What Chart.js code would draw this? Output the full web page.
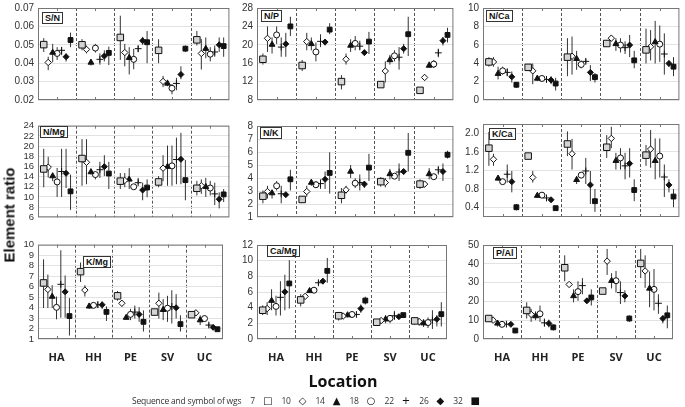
<!DOCTYPE html>
<html>
<head>
<meta charset="utf-8">
<script src="https://cdn.jsdelivr.net/npm/chart.js@4.4.1/dist/chart.umd.min.js"></script>
<style>
  body { margin: 0; background: #fff; }
  #wrap { position: relative; width: 685px; height: 407px; overflow: hidden; background: #fff; }
  canvas { position: absolute; }
  .tag { position: absolute; border: 1px solid #333; background: #fff; color: #111;
         font: bold 9px 'Liberation Sans', Arial, sans-serif; line-height: 10px; padding: 0 2px; }
  .ylab { position: absolute; left: 9px; top: 215px; transform: translate(-50%, -50%) rotate(-90deg);
          font: bold 15px 'Liberation Sans', Arial, sans-serif; color: #111; white-space: nowrap; }
  .xlab { position: absolute; left: 343px; top: 381px; transform: translate(-50%, -50%);
          font: bold 16px 'Open Sans', sans-serif; color: #111; white-space: nowrap; }
  #legend { position: absolute; left: 306px; top: 400px; transform: translate(-50%, -50%);
            font: 8.5px 'Open Sans', sans-serif; letter-spacing: -0.2px; color: #333; white-space: nowrap; }
  #legend .num { margin-left: 9px; }
  #legend .sym { margin-left: 8px; font: 10px 'DejaVu Sans', sans-serif; letter-spacing: 0; color: #111; }
</style>
</head>
<body>
<div id="wrap"></div>
<script>
const locations = ["HA", "HH", "PE", "SV", "UC"];
const wgs = [7, 10, 14, 18, 22, 26, 32];
const symbols = ["□", "◇", "▲", "○", "+", "◆", "■"];

// each array: one row per location, one value per wgs (7,10,14,18,22,26,32)
const snMean = [[0.0501, 0.0404, 0.0458, 0.0453, 0.0470, 0.0435, 0.0526],
                [0.0500, 0.0475, 0.0404, 0.0482, 0.0421, 0.0439, 0.0456],
                [0.0540, 0.0458, 0.0430, 0.0421, 0.0479, 0.0522, 0.0514],
                [0.0470, 0.0301, 0.0290, 0.0264, 0.0290, 0.0339, 0.0479],
                [0.0527, 0.0453, 0.0479, 0.0449, 0.0461, 0.0500, 0.0493]];
const snLow  = [[0.0461, 0.0362, 0.0405, 0.0418, 0.0444, 0.0409, 0.0487],
                [0.0470, 0.0453, 0.0387, 0.0458, 0.0392, 0.0410, 0.0390],
                [0.0418, 0.0383, 0.0339, 0.0367, 0.0460, 0.0500, 0.0400],
                [0.0400, 0.0270, 0.0275, 0.0231, 0.0253, 0.0313, 0.0461],
                [0.0496, 0.0366, 0.0427, 0.0410, 0.0435, 0.0461, 0.0435]];
const snHigh = [[0.0536, 0.0435, 0.0505, 0.0487, 0.0487, 0.0453, 0.0566],
                [0.0531, 0.0496, 0.0420, 0.0505, 0.0453, 0.0470, 0.0490],
                [0.0658, 0.0505, 0.0487, 0.0478, 0.0495, 0.0543, 0.0575],
                [0.0530, 0.0331, 0.0310, 0.0287, 0.0320, 0.0383, 0.0496],
                [0.0575, 0.0531, 0.0540, 0.0487, 0.0496, 0.0540, 0.0540]];
const snTicks = [0.02, 0.03, 0.04, 0.05, 0.06, 0.07];

const npMean = [[16.85, 21.4, 20.05, 22.15, 19.5, 20.2, 24.0],
                [15.5, 20.7, 20.2, 18.45, 20.75, 20.6, 23.3],
                [12.0, 16.85, 19.85, 20.3, 19.7, 18.3, 20.7],
                [11.35, 14.3, 16.7, 17.6, 17.3, 19.15, 22.3],
                [10.1, 12.9, 15.5, 15.8, 18.25, 20.9, 22.15]];
const npLow  = [[15.7, 18.45, 18.1, 20.2, 17.4, 17.4, 21.9],
                [14.3, 18.8, 18.8, 16.4, 19.5, 19.85, 22.3],
                [10.3, 15.7, 18.45, 18.8, 18.8, 17.6, 18.0],
                [10.85, 11.8, 15.7, 16.4, 14.6, 18.1, 17.55],
                [9.4, 12.2, 14.95, 14.95, 17.3, 19.85, 20.5]];
const npHigh = [[18.1, 24.0, 21.6, 24.0, 21.6, 22.6, 26.1],
                [16.7, 22.6, 21.6, 20.5, 22.3, 21.2, 24.7],
                [13.4, 18.1, 21.2, 21.9, 20.9, 18.9, 22.8],
                [11.8, 16.4, 17.8, 18.8, 19.5, 20.2, 26.1],
                [10.8, 13.6, 16.35, 16.7, 19.15, 21.7, 23.7]];
const npTicks = [8, 12, 16, 20, 24, 28];

const ncaMean = [[4.14, 4.14, 2.86, 3.17, 3.0, 2.52, 1.66],
                 [3.55, 3.17, 2.34, 2.34, 2.24, 2.17, 1.79],
                 [4.66, 4.76, 4.48, 3.86, 4.2, 3.0, 2.48],
                 [6.14, 6.72, 6.1, 5.97, 5.69, 5.97, 4.31],
                 [5.45, 5.79, 6.31, 6.07, 5.0, 3.97, 3.62]];
const ncaLow  = [[3.62, 3.62, 2.24, 2.76, 2.59, 1.9, 1.31],
                 [3.28, 1.72, 2.07, 2.07, 1.9, 1.72, 1.03],
                 [2.59, 2.76, 3.28, 3.45, 3.97, 2.07, 1.9],
                 [5.86, 6.38, 5.34, 5.17, 5.0, 4.66, 3.45],
                 [3.97, 4.3, 3.97, 4.14, 2.76, 3.62, 2.59]];
const ncaHigh = [[4.66, 4.66, 3.62, 3.62, 3.45, 3.1, 1.97],
                 [3.79, 3.97, 2.59, 2.59, 2.52, 2.59, 2.41],
                 [6.72, 6.9, 5.34, 4.31, 4.48, 3.79, 2.93],
                 [6.38, 7.07, 6.72, 6.72, 6.38, 7.07, 5.34],
                 [7.76, 7.6, 8.6, 8.1, 7.24, 4.31, 4.66]];
const ncaTicks = [0, 2, 4, 6, 8, 10];

const nmgMean = [[15.5, 15.85, 14.1, 12.95, 15.0, 14.65, 11.1],
                 [17.55, 16.8, 14.9, 14.4, 15.35, 15.95, 14.6],
                 [13.1, 13.25, 13.45, 12.0, 12.8, 11.35, 11.85],
                 [12.95, 15.65, 15.95, 16.1, 17.35, 17.4, 13.3],
                 [11.7, 12.2, 12.0, 11.75, 10.6, 9.55, 10.5]];
const nmgLow  = [[11.9, 13.8, 13.1, 10.0, 10.0, 11.75, 7.45],
                 [12.2, 12.5, 14.4, 13.45, 13.75, 14.1, 11.55],
                 [11.55, 11.9, 11.55, 11.55, 12.5, 9.35, 9.95],
                 [11.9, 13.1, 12.2, 12.2, 12.5, 12.5, 9.35],
                 [10.3, 10.6, 10.0, 10.3, 8.4, 7.75, 9.0]];
const nmgHigh = [[19.45, 17.9, 14.7, 15.7, 19.45, 19.45, 14.4],
                 [21.35, 21.35, 15.35, 15.0, 16.9, 18.2, 16.9],
                 [14.7, 14.7, 15.65, 12.5, 13.75, 12.8, 13.45],
                 [14.1, 18.2, 20.1, 20.1, 21.65, 22.6, 17.25],
                 [13.15, 13.45, 13.75, 13.15, 12.8, 10.9, 11.55]];
const nmgTicks = [6, 8, 10, 12, 14, 16, 18, 20, 22, 24];

const nkMean = [[2.6, 2.96, 2.84, 3.4, 2.79, 2.72, 3.9],
                [2.35, 2.96, 3.65, 3.48, 3.57, 3.9, 4.39],
                [2.67, 3.09, 4.5, 3.6, 3.65, 3.53, 4.8],
                [3.72, 3.65, 4.31, 4.14, 4.46, 4.5, 5.94],
                [3.53, 3.53, 4.31, 4.1, 4.63, 4.5, 5.79]];
const nkLow  = [[2.05, 2.42, 2.42, 3.04, 2.05, 2.55, 3.04],
                [2.1, 2.55, 3.4, 3.23, 3.16, 3.16, 2.8],
                [2.05, 2.8, 4.0, 3.23, 3.04, 3.23, 3.77],
                [3.33, 3.28, 3.9, 4.0, 3.77, 4.27, 4.5],
                [3.16, 3.28, 3.9, 3.9, 4.27, 3.77, 5.5]];
const nkHigh = [[3.04, 3.4, 3.04, 3.77, 3.4, 2.84, 4.63],
                [2.6, 3.4, 3.9, 3.77, 3.9, 4.5, 5.98],
                [3.23, 3.4, 5.0, 3.98, 4.27, 3.77, 5.86],
                [4.07, 4.0, 4.7, 4.27, 5.12, 4.63, 7.46],
                [3.9, 3.77, 4.76, 4.27, 4.88, 5.12, 6.1]];
const nkTicks = [1, 2, 3, 4, 5, 6, 7, 8];

const kcaMean = [[1.68, 1.44, 1.03, 0.96, 1.12, 0.96, 0.41],
                 [1.51, 1.05, 0.66, 0.67, 0.61, 0.57, 0.39],
                 [1.77, 1.56, 1.0, 1.1, 1.19, 0.89, 0.54],
                 [1.70, 1.89, 1.41, 1.47, 1.3, 1.35, 0.78],
                 [1.53, 1.66, 1.41, 1.51, 1.06, 0.89, 0.64]];
const kcaLow  = [[1.30, 1.30, 0.98, 0.91, 0.94, 0.73, 0.34],
                 [1.46, 0.94, 0.61, 0.62, 0.57, 0.53, 0.35],
                 [1.51, 1.22, 0.91, 1.06, 0.91, 0.48, 0.31],
                 [1.47, 1.68, 1.22, 1.22, 1.01, 1.05, 0.54],
                 [1.30, 1.26, 1.01, 1.05, 0.63, 0.73, 0.41]];
const kcaHigh = [[2.03, 1.56, 1.08, 1.01, 1.33, 1.19, 0.48],
                 [1.58, 1.19, 0.71, 0.73, 0.65, 0.61, 0.43],
                 [2.04, 1.88, 1.08, 1.15, 1.47, 1.19, 0.80],
                 [1.96, 2.14, 1.58, 1.68, 1.58, 1.68, 1.01],
                 [1.75, 2.07, 1.89, 1.89, 1.33, 1.01, 0.80]];
const kcaTicks = [0.4, 0.8, 1.2, 1.6, 2.0];

const kmgMean = [[6.35, 5.73, 5.05, 4.02, 6.22, 5.5, 3.19],
                 [7.43, 5.67, 4.12, 4.21, 4.27, 4.27, 3.59],
                 [5.12, 4.41, 3.04, 3.35, 3.57, 3.35, 2.64],
                 [3.57, 4.41, 3.79, 3.94, 4.1, 3.98, 2.42],
                 [3.32, 3.5, 2.8, 2.95, 2.33, 2.11, 1.93]];
const kmgLow  = [[3.96, 3.96, 3.96, 2.88, 3.03, 3.03, 1.33],
                 [6.44, 5.05, 3.87, 3.96, 3.96, 3.87, 2.72],
                 [4.66, 4.1, 2.85, 2.8, 2.95, 2.64, 1.71],
                 [3.35, 2.95, 2.8, 2.64, 2.48, 2.95, 1.71],
                 [3.04, 3.26, 2.33, 2.64, 2.11, 1.87, 1.81]];
const kmgHigh = [[8.6, 7.15, 6.13, 5.05, 9.47, 7.06, 4.9],
                 [8.3, 6.13, 4.43, 4.46, 4.58, 4.58, 4.12],
                 [5.59, 4.66, 3.26, 3.88, 4.19, 4.04, 3.73],
                 [3.79, 5.43, 4.81, 5.12, 5.65, 5.28, 3.26],
                 [3.57, 3.75, 3.26, 3.26, 2.55, 2.33, 2.05]];
const kmgTicks = [1, 2, 3, 4, 5, 6, 7, 8, 9, 10];

const camgMean = [[3.67, 3.88, 4.9, 4.16, 5.32, 6.02, 7.09],
                  [4.99, 5.44, 6.14, 6.23, 7.18, 7.38, 8.7],
                  [2.97, 2.93, 3.05, 3.13, 3.13, 3.88, 4.91],
                  [2.14, 2.35, 2.52, 2.64, 2.97, 2.85, 3.05],
                  [2.31, 2.23, 2.02, 2.1, 2.43, 2.52, 3.17]];
const camgLow  = [[3.05, 3.05, 3.67, 3.0, 3.0, 3.67, 3.88],
                  [4.16, 5.15, 5.94, 5.94, 6.89, 7.05, 7.18],
                  [2.35, 2.68, 2.76, 2.93, 2.93, 3.34, 4.41],
                  [1.81, 2.02, 2.02, 2.02, 2.43, 2.56, 2.76],
                  [1.81, 1.69, 1.53, 1.4, 1.28, 1.6, 1.6]];
const camgHigh = [[4.29, 4.7, 6.35, 5.53, 7.38, 8.2, 10.06],
                  [5.73, 5.73, 6.35, 6.55, 7.47, 7.8, 10.35],
                  [3.46, 3.18, 3.26, 3.34, 3.34, 4.41, 5.4],
                  [2.43, 2.64, 3.05, 3.05, 3.59, 3.13, 3.34],
                  [2.76, 2.64, 2.52, 2.76, 3.67, 3.05, 4.7]];
const camgTicks = [0, 2, 4, 6, 8, 10, 12];

const palMean = [[10.9, 10.0, 8.3, 7.8, 7.9, 7.8, 4.5],
                 [15.2, 13.1, 12.2, 13.4, 8.6, 8.3, 6.2],
                 [37.9, 29.0, 22.9, 25.2, 28.4, 20.3, 22.1],
                 [25.5, 41.4, 31.0, 31.0, 24.7, 22.9, 10.9],
                 [40.2, 36.2, 26.9, 26.4, 19.0, 10.9, 12.6]];
const palLow  = [[9.1, 8.6, 6.55, 6.6, 7.2, 6.9, 3.5],
                 [10.9, 9.1, 10.0, 9.1, 6.55, 6.2, 4.5],
                 [30.7, 27.6, 19.5, 20.3, 23.8, 19.1, 17.8],
                 [23.8, 34.1, 26.9, 24.7, 18.6, 19.5, 9.1],
                 [32.4, 27.2, 16.9, 15.2, 13.4, 8.3, 5.7]];
const palHigh = [[12.6, 11.4, 10.0, 9.1, 8.6, 8.6, 5.5],
                 [19.5, 16.0, 14.7, 17.8, 10.9, 10.3, 7.8],
                 [44.5, 30.3, 26.4, 30.7, 32.4, 21.6, 26.4],
                 [27.2, 47.9, 35.0, 36.2, 30.7, 25.9, 12.6],
                 [47.9, 44.5, 35.9, 37.2, 23.8, 12.6, 17.8]];
const palTicks = [0, 10, 20, 30, 40, 50];

// marker look per wgs
const markerStyle = ["rect", "rectRot", "triangle", "circle", "cross", "rectRot", "rect"];
const markerSize = [4.6, 3.2, 3.4, 3, 3.4, 3, 3.4];
const markerFill = ["#d4d4d4", "#fff", "#111", "#fff", "#111", "#111", "#111"];

// layout: plot area [left, right, top, bottom] in page pixels, tag = label box position
const panels = [
  { name: "S/N",   mean: snMean,   low: snLow,   high: snHigh,   ticks: snTicks,   min: 0.02, max: 0.07, dec: 2, area: [38, 231, 6, 102],    tag: [42, 12] },
  { name: "N/P",   mean: npMean,   low: npLow,   high: npHigh,   ticks: npTicks,   min: 8,    max: 28,   dec: 0, area: [257, 455, 6, 102],   tag: [261, 10] },
  { name: "N/Ca",  mean: ncaMean,  low: ncaLow,  high: ncaHigh,  ticks: ncaTicks,  min: 0,    max: 10,   dec: 0, area: [483, 681, 6, 102],   tag: [486, 10] },
  { name: "N/Mg",  mean: nmgMean,  low: nmgLow,  high: nmgHigh,  ticks: nmgTicks,  min: 6,    max: 24,   dec: 0, area: [38, 231, 124, 219],  tag: [40, 126] },
  { name: "N/K",   mean: nkMean,   low: nkLow,   high: nkHigh,   ticks: nkTicks,   min: 1,    max: 8,    dec: 0, area: [257, 455, 124, 219], tag: [260, 127] },
  { name: "K/Ca",  mean: kcaMean,  low: kcaLow,  high: kcaHigh,  ticks: kcaTicks,  min: 0.2,  max: 2.2,  dec: 1, area: [483, 681, 122, 219], tag: [489, 128] },
  { name: "K/Mg",  mean: kmgMean,  low: kmgLow,  high: kmgHigh,  ticks: kmgTicks,  min: 1,    max: 10,   dec: 0, area: [38, 231, 243, 339],  tag: [83, 256], bottom: true },
  { name: "Ca/Mg", mean: camgMean, low: camgLow, high: camgHigh, ticks: camgTicks, min: 0,    max: 12,   dec: 0, area: [257, 455, 243, 339], tag: [267, 245], bottom: true },
  { name: "P/Al",  mean: palMean,  low: palLow,  high: palHigh,  ticks: palTicks,  min: 0,    max: 50,   dec: 0, area: [483, 681, 243, 339], tag: [493, 247], bottom: true }
];

const wrap = document.getElementById("wrap");
const xTicks = locations.flatMap((_, i) => [i, i + 0.5]).concat([locations.length]);
const xOffset = s => 0.15 + s * 0.7 / (wgs.length - 1);

// box around the plot and the little inward ticks at each location centre
const framePlugin = {
  id: "frame",
  beforeDatasetsDraw(chart) {
    const { ctx, chartArea: a, scales } = chart;
    ctx.save();
    ctx.strokeStyle = "#777";
    ctx.lineWidth = 1;
    ctx.strokeRect(a.left + 0.5, a.top + 0.5, a.width - 1, a.height - 1);
    ctx.beginPath();
    locations.forEach((_, i) => {
      const px = Math.round(scales.x.getPixelForValue(i + 0.5)) + 0.5;
      ctx.moveTo(px, a.top); ctx.lineTo(px, a.top + 3);
      ctx.moveTo(px, a.bottom); ctx.lineTo(px, a.bottom - 3);
    });
    ctx.stroke();
    ctx.restore();
  }
};

function makePanel(p) {
  const [L, R, T, B] = p.area;
  const padTop = 8, padBot = 8, yW = 36, padR = 4;
  const xH = p.bottom ? 30 : 0;
  const cv = document.createElement("canvas");
  cv.width = R - L + yW + padR;
  cv.height = B - T + padTop + padBot + xH;
  cv.style.left = (L - yW) + "px";
  cv.style.top = (T - padTop) + "px";
  wrap.appendChild(cv);

  // error bars: one broken line, a gap after every bar
  const errData = [];
  locations.forEach((_, i) => {
    wgs.forEach((w, s) => {
      const x = i + xOffset(s);
      errData.push({ x: x, y: p.low[i][s] }, { x: x, y: p.high[i][s] }, { x: x, y: null });
    });
  });

  const datasets = [{
    type: "line",
    data: errData,
    borderColor: "#333",
    borderWidth: 1,
    pointRadius: 0,
    spanGaps: false,
    fill: false,
    order: 10
  }];
  wgs.forEach((w, s) => {
    datasets.push({
      label: "wgs " + w,
      data: locations.map((_, i) => ({ x: i + xOffset(s), y: p.mean[i][s] })),
      pointStyle: markerStyle[s],
      pointRadius: markerSize[s],
      backgroundColor: markerFill[s],
      borderColor: "#111",
      borderWidth: 1,
      order: 0
    });
  });

  new Chart(cv, {
    type: "scatter",
    data: { datasets: datasets },
    options: {
      responsive: false,
      animation: false,
      devicePixelRatio: 1,
      layout: { padding: { top: padTop, bottom: padBot, left: 0, right: padR } },
      plugins: { legend: { display: false }, tooltip: { enabled: false } },
      scales: {
        x: {
          type: "linear",
          min: 0,
          max: locations.length,
          afterBuildTicks: s => { s.ticks = xTicks.map(v => ({ value: v })); },
          afterFit: s => { s.height = xH; },
          grid: {
            drawTicks: false,
            lineWidth: 1,
            color: c => (c.tick && Number.isInteger(c.tick.value) && c.tick.value > 0 && c.tick.value < locations.length) ? "#555" : "rgba(0,0,0,0)"
          },
          border: { display: false, dash: [3, 2] },
          ticks: {
            display: !!p.bottom,
            autoSkip: false,
            maxRotation: 0,
            minRotation: 0,
            padding: 12,
            color: "#222",
            font: { family: "'Open Sans', sans-serif", size: 11, weight: "bold" },
            callback: v => Number.isInteger(v) ? "" : locations[Math.floor(v)]
          }
        },
        y: {
          min: p.min,
          max: p.max,
          afterBuildTicks: s => { s.ticks = p.ticks.map(v => ({ value: v })); },
          afterFit: s => { s.width = yW; },
          grid: { drawTicks: false, color: "#e2e2e2" },
          border: { display: false },
          ticks: {
            autoSkip: false,
            padding: 4,
            color: "#333",
            font: { family: "'Liberation Sans', Arial, sans-serif", size: p.ticks.length > 8 ? 9.5 : 10 },
            callback: v => v.toFixed(p.dec)
          }
        }
      }
    },
    plugins: [framePlugin]
  });

  const tag = document.createElement("div");
  tag.className = "tag";
  tag.textContent = p.name;
  tag.style.left = p.tag[0] + "px";
  tag.style.top = p.tag[1] + "px";
  wrap.appendChild(tag);
}

panels.forEach(makePanel);

const ylab = document.createElement("div");
ylab.className = "ylab";
ylab.textContent = "Element ratio";
wrap.appendChild(ylab);

const xlab = document.createElement("div");
xlab.className = "xlab";
xlab.textContent = "Location";
wrap.appendChild(xlab);

const legend = document.createElement("div");
legend.id = "legend";
let html = "<span>Sequence and symbol of wgs</span>";
wgs.forEach((w, s) => {
  html += '<span class="num">' + w + '</span><span class="sym">' + symbols[s] + '</span>';
});
legend.innerHTML = html;
wrap.appendChild(legend);
</script>
</body>
</html>
